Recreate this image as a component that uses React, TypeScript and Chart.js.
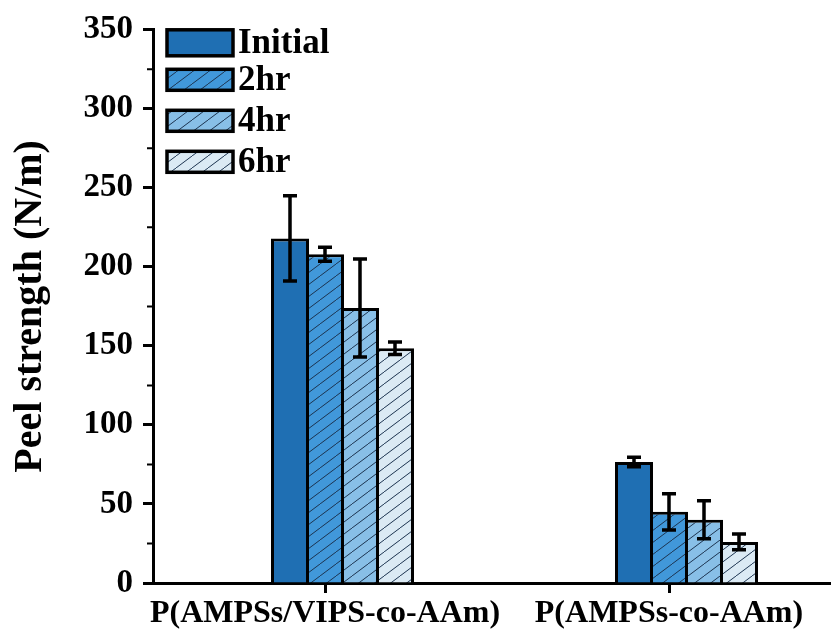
import React, { useEffect, useRef } from 'react';
import { Chart, registerables } from 'chart.js';

Chart.register(...registerables);

const categories = ['P(AMPSs/VIPS-co-AAm)', 'P(AMPSs-co-AAm)'];
const seriesLabels = ['Initial', '2hr', '4hr', '6hr'];
const initialValues = [218, 76.5];
const initialErrors = [27, 3];
const hr2Values = [208, 45];
const hr2Errors = [4.5, 11.5];
const hr4Values = [174, 40];
const hr4Errors = [31, 12];
const hr6Values = [148.5, 26];
const hr6Errors = [4, 5];
const yTickValues = [0, 50, 100, 150, 200, 250, 300, 350];
const yMinorTickValues = [25, 75, 125, 175, 225, 275, 325];

const FONT = "'Liberation Serif', 'Times New Roman', serif";
const seriesColors = ['#1f6fb3', '#4198da', '#88bfe7', '#dbeaf4'];
const seriesHatched = [false, true, true, true];

function makeFill(color: string, hatched: boolean): any {
  if (!hatched) return color;
  const c = document.createElement('canvas');
  c.width = 16;
  c.height = 12;
  const g = c.getContext('2d')!;
  g.fillStyle = color;
  g.fillRect(0, 0, 16, 12);
  g.strokeStyle = '#1d3450';
  g.lineWidth = 1;
  g.beginPath();
  g.moveTo(-16, 24);
  g.lineTo(32, -12);
  g.stroke();
  return g.createPattern(c, 'repeat');
}

const errorBarPlugin = {
  id: 'errorBars',
  afterDatasetsDraw(chart: any) {
    const ctx = chart.ctx;
    const y = chart.scales.y;
    chart.data.datasets.forEach((ds: any, di: number) => {
      const errs = ds.errors;
      if (!errs) return;
      const meta = chart.getDatasetMeta(di);
      meta.data.forEach((bar: any, i: number) => {
        const v = ds.data[i];
        if (v == null) return;
        const x = bar.x;
        const top = y.getPixelForValue(v + errs[i]);
        const bot = y.getPixelForValue(v - errs[i]);
        ctx.save();
        ctx.strokeStyle = '#000';
        ctx.lineWidth = 3.5;
        ctx.beginPath();
        ctx.moveTo(x, top);
        ctx.lineTo(x, bot);
        ctx.moveTo(x - 7, top);
        ctx.lineTo(x + 7, top);
        ctx.moveTo(x - 7, bot);
        ctx.lineTo(x + 7, bot);
        ctx.stroke();
        ctx.restore();
      });
    });
  },
};

const minorTickPlugin = {
  id: 'minorTicks',
  afterDraw(chart: any) {
    const ctx = chart.ctx;
    const y = chart.scales.y;
    const left = chart.chartArea.left;
    ctx.save();
    ctx.strokeStyle = '#000';
    ctx.lineWidth = 2;
    ctx.beginPath();
    yMinorTickValues.forEach((v) => {
      const py = y.getPixelForValue(v);
      ctx.moveTo(left - 6, py);
      ctx.lineTo(left, py);
    });
    ctx.stroke();
    ctx.restore();
  },
};

const legendPlugin = {
  id: 'boxLegend',
  afterDraw(chart: any) {
    const ctx = chart.ctx;
    const area = chart.chartArea;
    const x0 = area.left + 14;
    const boxW = 66;
    const rowCenters = [13, 50, 91, 132];
    const boxHeights = [26, 21, 21, 21];
    let k = 0;
    chart.data.datasets.forEach((ds: any) => {
      if (!ds.label) return;
      const cy = area.top + rowCenters[k];
      const bh = boxHeights[k];
      ctx.save();
      ctx.fillStyle = ds.backgroundColor;
      ctx.fillRect(x0, cy - bh / 2, boxW, bh);
      ctx.strokeStyle = '#000';
      ctx.lineWidth = 3.5;
      ctx.strokeRect(x0, cy - bh / 2, boxW, bh);
      ctx.fillStyle = '#000';
      ctx.font = `bold 35px ${FONT}`;
      ctx.textBaseline = 'middle';
      ctx.textAlign = 'left';
      ctx.fillText(ds.label, x0 + boxW + 5, cy + 1);
      ctx.restore();
      k++;
    });
  },
};

export default function App() {
  const ref = useRef<HTMLCanvasElement | null>(null);

  useEffect(() => {
    if (!ref.current) return;
    const valueSets = [initialValues, hr2Values, hr4Values, hr6Values];
    const errorSets = [initialErrors, hr2Errors, hr4Errors, hr6Errors];
    const datasets: any[] = [
      { label: '', data: categories.map(() => null), backgroundColor: 'rgba(0,0,0,0)', borderWidth: 0 },
    ];
    seriesLabels.forEach((label, i) => {
      datasets.push({
        label,
        data: valueSets[i],
        errors: errorSets[i],
        backgroundColor: makeFill(seriesColors[i], seriesHatched[i]),
        borderColor: '#000',
        borderWidth: 3,
        borderSkipped: 'start',
      });
    });

    const chart = new Chart(ref.current, {
      type: 'bar',
      data: { labels: categories, datasets },
      options: {
        animation: false,
        responsive: false,
        maintainAspectRatio: false,
        layout: { padding: { top: 29, right: 19, left: 0, bottom: 0 } },
        datasets: { bar: { categoryPercentage: 0.5087, barPercentage: 1.086 } },
        plugins: { legend: { display: false }, tooltip: { enabled: false } },
        scales: {
          x: {
            type: 'category',
            offset: true,
            grid: { offset: false, drawOnChartArea: false, drawTicks: true, tickLength: 10, tickWidth: 3, tickColor: '#000' },
            border: { display: true, color: '#000', width: 3 },
            ticks: { color: '#000', font: { family: FONT, size: 32, weight: 'bold' }, padding: 2, maxRotation: 0, autoSkip: false },
            afterFit: (s: any) => { s.height = 47; },
          },
          y: {
            min: 0,
            max: 350,
            afterBuildTicks: (s: any) => { s.ticks = yTickValues.map((v) => ({ value: v })); },
            grid: { drawOnChartArea: false, drawTicks: true, tickLength: 10, tickWidth: 3, tickColor: '#000' },
            border: { display: true, color: '#000', width: 3 },
            ticks: { color: '#000', font: { family: FONT, size: 33, weight: 'bold' }, padding: 10 },
            title: { display: true, text: 'Peel strength (N/m)', color: '#000', font: { family: FONT, size: 40, weight: 'bold' }, padding: { top: 7, bottom: 0 } },
            afterFit: (s: any) => { s.width = 153; },
          },
        },
      } as any,
      plugins: [errorBarPlugin, minorTickPlugin, legendPlugin],
    });
    return () => chart.destroy();
  }, []);

  return (
    <div style={{ position: 'fixed', left: 0, top: 0, width: 831, height: 630, overflow: 'hidden', background: '#fff' }}>
      <canvas ref={ref} width={860} height={630} style={{ display: 'block', width: 860, height: 630 }} />
    </div>
  );
}
